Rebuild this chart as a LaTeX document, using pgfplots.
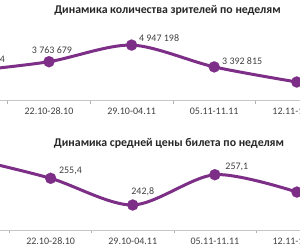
\documentclass[border=0pt]{standalone}
\usepackage{pgfplots}
\pgfplotsset{compat=1.18}
\usepackage{fontspec}
\setmainfont{Carlito}
\definecolor{pl}{RGB}{125,46,135}
\definecolor{tl}{RGB}{64,64,64}
\tikzset{lbl/.style={font=\fontsize{10}{12}\selectfont, text=tl}}
\begin{document}
\begin{tikzpicture}[x=1pt,y=1pt]
\useasboundingbox (0,0) rectangle (300,250);
\clip (0,0) rectangle (300,250);
\pgfplotsset{
 mychart/.style={
  scale only axis, anchor=south west,
  axis y line=none, axis x line=bottom,
  x axis line style={draw=gray!45, line width=0.8pt, -},
  xmin=-0.5, xmax=4.5,
  xtick={0,1,2,3,4},
  xticklabels={15.10-21.10,22.10-28.10,29.10-04.11,05.11-11.11,12.11-18.11},
  major tick length=0pt,
  minor xtick={-0.5,0.5,1.5,2.5,3.5,4.5},
  minor tick length=3pt,
  tick align=outside,
  minor tick style={draw=gray!60, line width=0.6pt},
  xticklabel style={font=\fontsize{10}{12}\selectfont, text=tl, yshift=-4pt},
  clip=false,
 },
 myline/.style={pl, line width=3pt, smooth, tension=0.5, mark=*, mark size=5.6pt,
   mark options={solid, fill=pl, draw=pl, line width=0.1pt}},
}
\node[font=\bfseries\fontsize{11.8}{13}\selectfont, text=black!85] at (167.5pt,240pt) {Динамика количества зрителей по неделям};
\node[font=\bfseries\fontsize{11.8}{13}\selectfont, text=black!85] at (169pt,107pt) {Динамика средней цены билета по неделям};
\begin{axis}[mychart, at={(-74.9pt,149.5pt)}, width=413pt, height=80.5pt,
  ymin=1000000, ymax=6733935]
\addplot[myline] coordinates {(0,3065644) (1,3763679) (2,4947198) (3,3392815) (4,2317736)};
\node[lbl, anchor=east] at (axis cs:0,3065644) [xshift=42pt, yshift=12.5pt] {3 065 644};
\node[lbl] at (axis cs:1,3763679) [xshift=3pt, yshift=11.7pt] {3 763 679};
\node[lbl] at (axis cs:2,4947198) [xshift=27.5pt, yshift=7pt] {4 947 198};
\node[lbl] at (axis cs:3,3392815) [xshift=28pt, yshift=6pt] {3 392 815};
\node[lbl] at (axis cs:4,2317736) [xshift=28pt, yshift=6pt] {2 317 736};
\end{axis}
\begin{axis}[mychart, at={(-72.5pt,20pt)}, width=410.5pt, height=80pt,
  ymin=231, ymax=268.76]
\addplot[myline] coordinates {(0,265.0) (1,255.4) (2,242.8) (3,257.1) (4,248.9)};
\node[lbl] at (axis cs:0,265.0) [xshift=20pt, yshift=8pt] {265,0};
\node[lbl] at (axis cs:1,255.4) [xshift=19.8pt, yshift=7.6pt] {255,4};
\node[lbl] at (axis cs:2,242.8) [xshift=10pt, yshift=13pt] {242,8};
\node[lbl] at (axis cs:3,257.1) [xshift=22pt, yshift=8pt] {257,1};
\node[lbl] at (axis cs:4,248.9) [xshift=22pt, yshift=8pt] {248,9};
\end{axis}
\end{tikzpicture}
\end{document}
